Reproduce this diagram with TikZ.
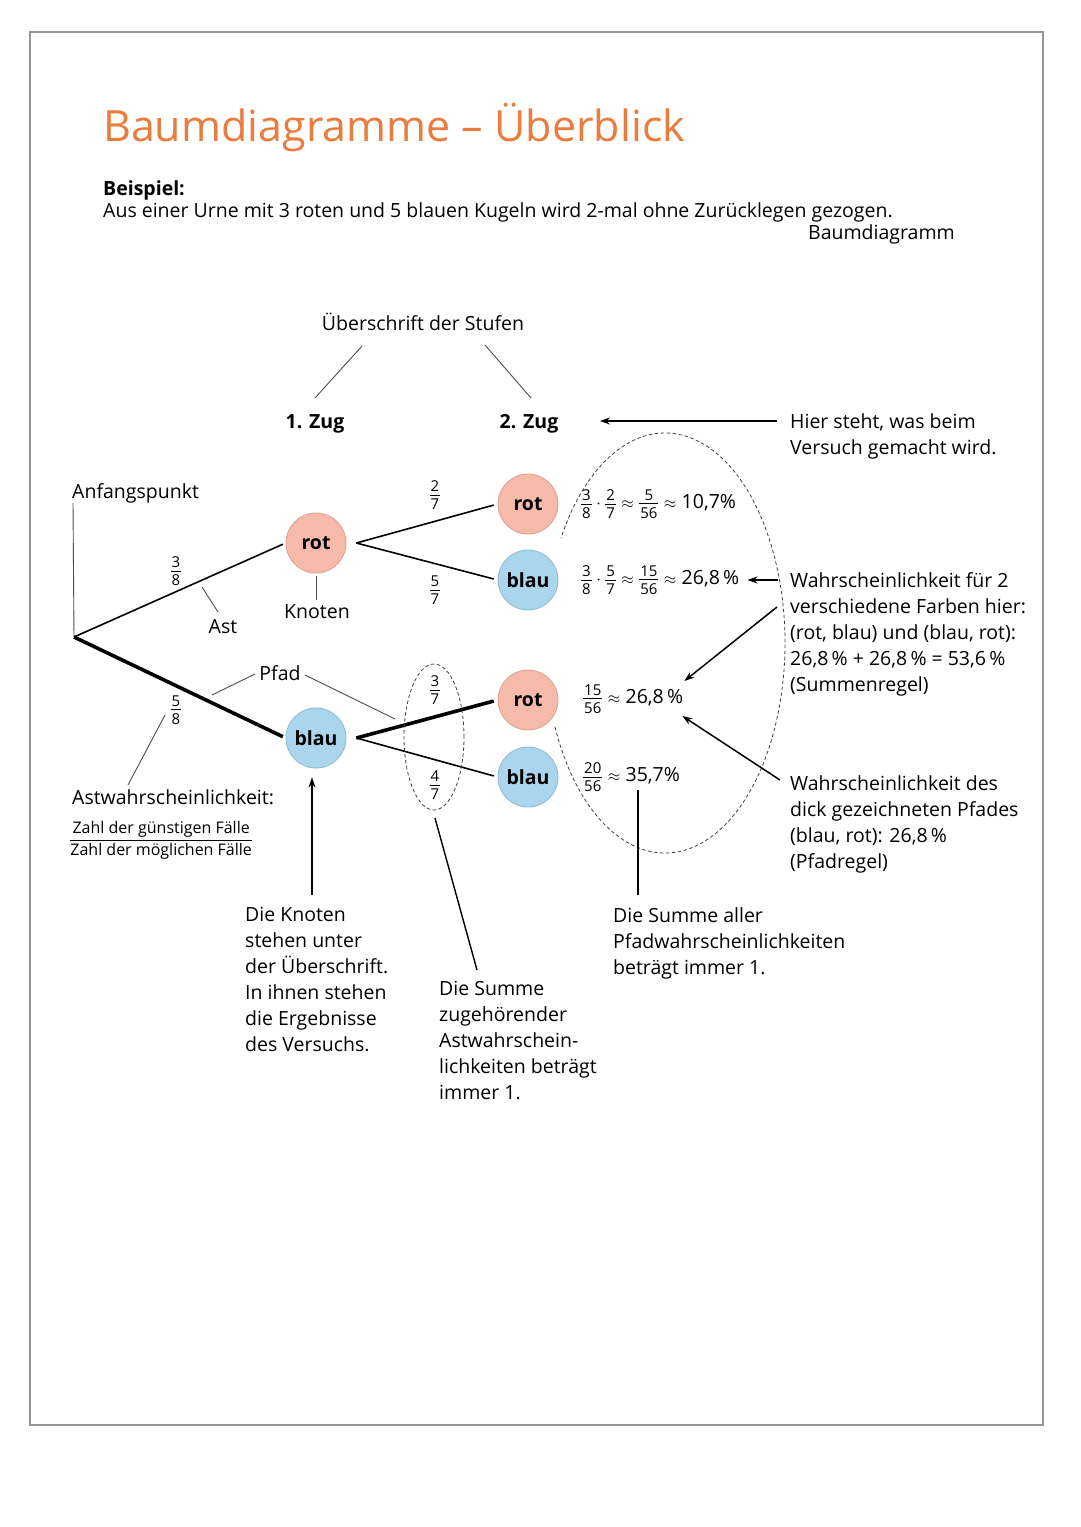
\documentclass[tikz,border=0pt]{standalone}
\usepackage{fix-cm}
\usepackage{amsmath}
\usepackage{fontspec}
\setmainfont{Open Sans}
\usepackage{tikz}
\usetikzlibrary{arrows, arrows.meta, positioning, calc}
\AtBeginDocument{\fontsize{19.5}{26}\selectfont}
\definecolor{titelorange}{RGB}{234,124,62}
\definecolor{rotfill}{RGB}{246,186,170}
\definecolor{rotrand}{RGB}{222,158,142}
\definecolor{blaufill}{RGB}{170,213,236}
\definecolor{blaurand}{RGB}{138,186,212}
\definecolor{rahmengrau}{RGB}{150,150,150}
\newcommand{\bruch}[2]{\vcenter{\fontsize{15}{15}\selectfont\offinterlineskip
    \halign{\hfil\kern1pt##\kern1pt\hfil\cr #1\cr\noalign{\kern3pt\hrule height 0.9pt\kern3pt}#2\cr}}}
\newcommand{\ca}{\mathrel{\text{\fontsize{16}{16}\selectfont$\approx$}}}
\newcommand{\mal}{\mathbin{\text{\fontsize{18}{18}\selectfont$\cdot$}}}
\tikzset{
    rotknoten/.style={circle, minimum size=60pt, inner sep=0pt, fill=rotfill, draw=rotrand, line width=0.8pt, font=\bfseries},
    blauknoten/.style={circle, minimum size=60pt, inner sep=0pt, fill=blaufill, draw=blaurand, line width=0.8pt, font=\bfseries},
    ast/.style={line width=1.6pt},
    dickerast/.style={line width=3.6pt},
    zeiger/.style={line width=0.9pt, draw=black!70},
    stab/.style={line width=1.4pt},
    oval/.style={dashed, dash pattern=on 3.5pt off 2.5pt, line width=0.8pt, draw=black!75},
    textblock/.style={align=left, anchor=north west, inner sep=0pt},
    arrow/.style={line width=1.5pt,->,>={Stealth[length=10pt,width=7pt]}}
}

\begin{document}
\begin{tikzpicture}[x=1pt, y=-1pt]
        \useasboundingbox (0,0) rectangle (1080,1527);
        \draw [rahmengrau, line width=1.6pt] (30,32) rectangle (1043,1425);

        % Kopf
        \node (titel) [anchor=base west, inner sep=0pt, text=titelorange, font=\fontsize{43}{50}\selectfont] at (103,141) {Baumdiagramme – Überblick};
        \node (beispiel) [anchor=base west, inner sep=0pt, font=\bfseries] at (103,195) {Beispiel:};
        \node (aufgabe) [anchor=base west, inner sep=0pt] at (103,217) {Aus einer Urne mit 3 roten und 5 blauen Kugeln wird 2-mal ohne Zurücklegen gezogen.};
        \node (baumdiagramm) [anchor=base east, inner sep=0pt] at (955,239) {Baumdiagramm};

        % Stufen
        \node (stufen) [anchor=base] at (423,330) {Überschrift der Stufen};
        \node (zug1) [anchor=base, font=\bfseries] at (315,428) {1. Zug};
        \node (zug2) [anchor=base, font=\bfseries] at (529,428) {2. Zug};
        \draw [zeiger] ($(stufen.base)+(-61,16)$) -- ($(zug1.base)+(0,-30)$);
        \draw [zeiger] ($(stufen.base)+(62,15)$) -- ($(zug2.base)+(2,-30)$);
        \node (versuch) [textblock] at (790,413) {Hier steht, was beim\\Versuch gemacht wird.};
        \draw [arrow] ($(versuch.north west)+(-13,8)$) -- ($(zug2.base)+(71,-7)$);

        % Baum
        \coordinate (start) at (74,637);
        \node (anfang) [anchor=base west, inner sep=0pt] at (72,498) {Anfangspunkt};
        \draw [zeiger] ($(anfang.base west)+(1,5)$) -- (start);

        \node (rot1) [rotknoten] at (316,543) {rot};
        \node (blau1) [blauknoten] at (316,738) {blau};
        \node (rot2) [rotknoten] at (528,504) {rot};
        \node (blau2) [blauknoten] at (528,580) {blau};
        \node (rot3) [rotknoten] at (528,700) {rot};
        \node (blau3) [blauknoten] at (528,777) {blau};

        \draw [ast, shorten >=3pt] (start) -- (rot1.west);
        \draw [dickerast, shorten >=3pt] (start) -- (blau1.west);
        \draw [ast, shorten >=4pt] ([xshift=10pt]rot1.east) -- (rot2.west);
        \draw [ast, shorten >=4pt] ([xshift=10pt]rot1.east) -- (blau2.west);
        \draw [dickerast, shorten >=4pt] ([xshift=10pt]blau1.east) -- (rot3.west);
        \draw [ast, shorten >=4pt] ([xshift=10pt]blau1.east) -- (blau3.west);

        % Astwahrscheinlichkeiten
        \node (p38) at (176,571) {$\bruch{3}{8}$};
        \node (p58) at (176,710) {$\bruch{5}{8}$};
        \node (p27) at (435,495) {$\bruch{2}{7}$};
        \node (p57) at (435,590) {$\bruch{5}{7}$};
        \node (p37) at (435,690) {$\bruch{3}{7}$};
        \node (p47) at (435,785) {$\bruch{4}{7}$};
        \draw [oval] (434,737) ellipse [x radius=30pt, y radius=73pt];

        % Pfadwahrscheinlichkeiten
        \node (w1) [anchor=west, inner sep=0pt] at (581,504) {$\bruch{3}{8}\mal\bruch{2}{7}\ca\bruch{5}{56}\ca\text{10,7\%}$};
        \node (w2) [anchor=west, inner sep=0pt] at (581,580) {$\bruch{3}{8}\mal\bruch{5}{7}\ca\bruch{15}{56}\ca\text{26,8\,\%}$};
        \node (w3) [anchor=west, inner sep=0pt] at (583,699) {$\bruch{15}{56}\ca\text{26,8\,\%}$};
        \node (w4) [anchor=west, inner sep=0pt] at (583,777) {$\bruch{20}{56}\ca\text{35,7\%}$};
        \coordinate (mitte) at (665,643);
        \draw [oval] (mitte) ++(203.6:120pt and 210pt) arc [start angle=203.6, end angle=510, x radius=120pt, y radius=210pt];

        % Beschriftungen am Baum
        \node (ast) [anchor=base] at (223,633) {Ast};
        \draw [zeiger] ($(ast.base)+(-21,-46)$) -- ($(ast.base)+(-5,-21)$);
        \node (knoten) [anchor=base] at (317,618) {Knoten};
        \draw [zeiger] ($(rot1.south)+(0,3)$) -- ($(knoten.base)+(-1,-18)$);
        \node (pfad) [anchor=base] at (280,680) {Pfad};
        \draw [zeiger] ($(pfad.base)+(-25,-6)$) -- ($(pfad.base)+(-68,15)$);
        \draw [zeiger] ($(pfad.base)+(25,-5)$) -- ($(pfad.base)+(115,39)$);

        \node (astw) [anchor=base west, inner sep=0pt] at (72,804) {Astwahrscheinlichkeit:};
        \draw [zeiger] ($(p58)+(-11,5)$) -- ($(astw.base west)+(56,-19)$);
        \node (formel) [anchor=north west, inner sep=0pt, font=\fontsize{16}{19}\selectfont] at (69,821) {$\genfrac{}{}{0.8pt}{0}{\text{Zahl der günstigen Fälle}}{\text{Zahl der möglichen Fälle}}$};

        % Erklaerungen unten
        \node (knotentext) [textblock] at (245,907) {Die Knoten\\stehen unter\\der Überschrift.\\In ihnen stehen\\die Ergebnisse\\des Versuchs.};
        \draw [arrow] ($(knotentext.north west)+(67,-12)$) -- ($(blau1.south)+(-4,9)$);
        \node (summetext) [textblock] at (439,981) {Die Summe\\zugehörender\\Astwahrschein-\\lichkeiten beträgt\\immer 1.};
        \draw [stab] ($(p47)+(0,33)$) -- ($(summetext.north west)+(38,-11)$);
        \node (pfadsumme) [textblock] at (613,907) {Die Summe aller\\Pfadwahrscheinlichkeiten\\beträgt immer 1.};
        \draw [stab] ($(pfadsumme.north west)+(25,-12)$) -- ($(pfadsumme.north west)+(25,-117)$);

        % Erklaerungen rechts
        \node (farben) [textblock] at (790,572) {Wahrscheinlichkeit für 2\\verschiedene Farben hier:\\(rot, blau) und (blau, rot):\\26,8\,\% + 26,8\,\% = 53,6\,\%\\(Summenregel)};
        \draw [arrow] ($(farben.north west)+(-12,8)$) -- ($(w2.east)+(8,0)$);
        \draw [arrow] ($(farben.north west)+(-13,35)$) -- ($(w3.east)+(1,-18)$);
        \node (pfadregel) [textblock] at (790,775) {Wahrscheinlichkeit des\\dick gezeichneten Pfades\\(blau, rot): 26,8\,\%\\(Pfadregel)};
        \draw [arrow] ($(pfadregel.north west)+(-10,5)$) -- ($(w3.east)+(-1,17)$);
    \end{tikzpicture}
\end{document}
